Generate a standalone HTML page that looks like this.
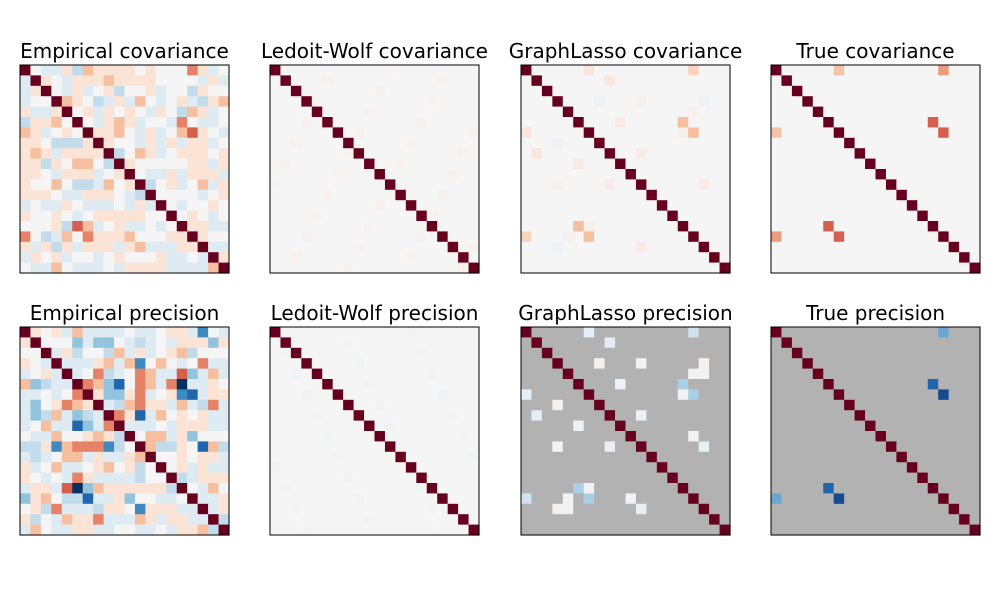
<!DOCTYPE html>
<html><head><meta charset="utf-8"><style>
html,body{margin:0;padding:0;background:#fff;}
svg{display:block;}
text{font-family:"DejaVu Sans","Liberation Sans",sans-serif;font-size:20px;fill:#000;}
</style></head><body>
<svg id="s" width="1000" height="600" xmlns="http://www.w3.org/2000/svg"></svg>
<script>
const P={'D':'#67001f','.':'#f5f5f5','r':'#fbe4d6','R':'#f6bfa0','o':'#e58267','O':'#d6604d',
'b':'#dfebf3','B':'#c3dcec','c':'#93c4de','C':'#3d8ac1','n':'#2166ac','N':'#053061'};
const ecov=`D.bbrBRrrrr.r...orb.
bDr.brrrRrrrr....brb
brD.brb.rB..rb..Br..
b..DRr.BbrbR.b.rbBrR
rbbrD.rbr.r.br.BRrb.
BrrR.D.brRrb..bo.bb.
Rrb.r.DrrR.brb.ROr.b
rr.BBBrDr..brbrbrrb.
rRrbrrrrDB.Rrb.rrr.r
rrBr.RR.BDr.....rrbr
rr.brrrb.rD.bbrbrrrb
r..R.BBbR.rDB.rb.Rbr
rrr.bbrrr.bBD....b.r
b.bbr.bbb.brbD.b..r.
r..r.b.rrrrr..D.r.b.
...rBORb.rbb.b.Drrbb
o.BbR.orrrR...rrDr..
rbrBrbrrrbrRbbbrrDbb
br.rb..b.r...rbb.bDr
.bbR.bbb.brrrrbbbbRD`;
const eprec=`Dr.rbRbbbb.bb.rrbC.b
rD...cbcc.bBb.brrrcr
..DbrB..BRbrb.rRB...
r.bDbbbrRbRC.R.b.obb
b.rbDb.oBb.oRbbOcbRb
RcBbbDoRcn.oRboNbbr.
bb.b.oDrccrob.rCnbrr
bc.roRrDbBRorrbRbBob
bcBRbcBbDornbR.r.rbb
b.RbbncboDbbb.brrrbb
.bbR..rRrBD.RRbrc...
BBrCRoooCB.DRBBr.nRB
bBb.RRbrbbrRD..r.rrb
rb.Rbb.rR.rB.D.rbrbb
r.b.borbbbbB..DBbrrr
brrbONcRrrrrrrBD.bR.
crR.BBnbbrc..bb.Dbbr
.rBobbbBrr.CrrrbbDbr
rB.bRrrobbbRrbrrbbDB
bR.bbrrbb..bb.brrRBD`;
function rows(s){return s.split('\n').map(r=>{while(r.length<20)r+='.';return r.slice(0,20);});}
const svg=document.getElementById('s');
let h='';
const X=[20,270,521,771],Y=[65,327],W=209,H=208;
function panel(px,py,get,title){
  const cw=W/20,ch=H/20;
  for(let i=0;i<20;i++)for(let j=0;j<20;j++){
    const col=get(i,j);
    const x=px+j*cw,y=py+i*ch;
    h+=`<rect x="${x.toFixed(2)}" y="${y.toFixed(2)}" width="${(cw+0.6).toFixed(2)}" height="${(ch+0.6).toFixed(2)}" fill="${col}"/>`;
  }
  h+=`<rect x="${px}" y="${py}" width="${W}" height="${H}" fill="none" stroke="#000" stroke-width="1"/>`;
  h+=`<text x="${px+W/2}" y="${py-7}" text-anchor="middle">${title}</text>`;
}
const A=rows(ecov),B=rows(eprec);
panel(X[0],Y[0],(i,j)=>i==j?P.D:(P[A[i][j]]||P['.']),'Empirical covariance');
panel(X[0],Y[1],(i,j)=>i==j?P.D:(P[B[i][j]]||P['.']),'Empirical precision');
const lwc=(i,j)=>i==j?P.D:((i*7+j*3)%11==0?'#f7f1ef':'#f5f5f5');
const lwp=(i,j)=>i==j?P.D:((i*5+j*3)%13==0?'#f2f3f4':'#f5f5f5');
panel(X[1],Y[0],lwc,'Ledoit-Wolf covariance');
panel(X[1],Y[1],lwp,'Ledoit-Wolf precision');
function sym(list){const m={};list.forEach(([i,j,c])=>{m[i+','+j]=c;m[j+','+i]=c;});return m;}
const gc=sym([[0,6,'#fae6dc'],[0,16,'#fad4bf'],[1,8,'#f9e6dc'],[3,7,'#eef2f5'],[3,11,'#f7f1ee'],[3,17,'#eef2f5'],[4,16,'#f6f0ed'],[5,9,'#f8ebe6'],[5,15,'#f6bfa0'],[6,15,'#f6f0ed'],[6,16,'#f6bfa0'],[8,11,'#f7ece7'],[11,17,'#f8ebe6'],[4,16,'#f7f0ed']]);
panel(X[2],Y[0],(i,j)=>i==j?P.D:(gc[i+','+j]||'#f5f5f5'),'GraphLasso covariance');
const gp=sym([[0,6,'#e6eff5'],[0,16,'#cfe3ef'],[1,8,'#e2edf4'],[3,7,'#f5f1ef'],[3,11,'#f2f2f2'],[3,17,'#f5f1ef'],[4,16,'#f2f2f2'],[5,9,'#ecf2f5'],[5,15,'#a9cfe5'],[6,15,'#f0f2f4'],[6,16,'#a9cfe5'],[8,11,'#eaf0f4'],[10,16,'#f2f2f2'],[11,17,'#e8eff3'],[4,17,'#f2f2f2']]);
panel(X[2],Y[1],(i,j)=>i==j?P.D:(gp[i+','+j]||'#b2b2b2'),'GraphLasso precision');
const tc=sym([[0,6,'#f7c3a7'],[0,16,'#ec9c7e'],[5,15,'#d6604d'],[6,16,'#d6604d']]);
panel(X[3],Y[0],(i,j)=>i==j?P.D:(tc[i+','+j]||'#f5f5f5'),'True covariance');
const tp=sym([[0,16,'#6aa6d0'],[5,15,'#2166ac'],[6,16,'#164a8c']]);
panel(X[3],Y[1],(i,j)=>i==j?P.D:(tp[i+','+j]||'#b2b2b2'),'True precision');
svg.innerHTML=h;
</script>
</body></html>
